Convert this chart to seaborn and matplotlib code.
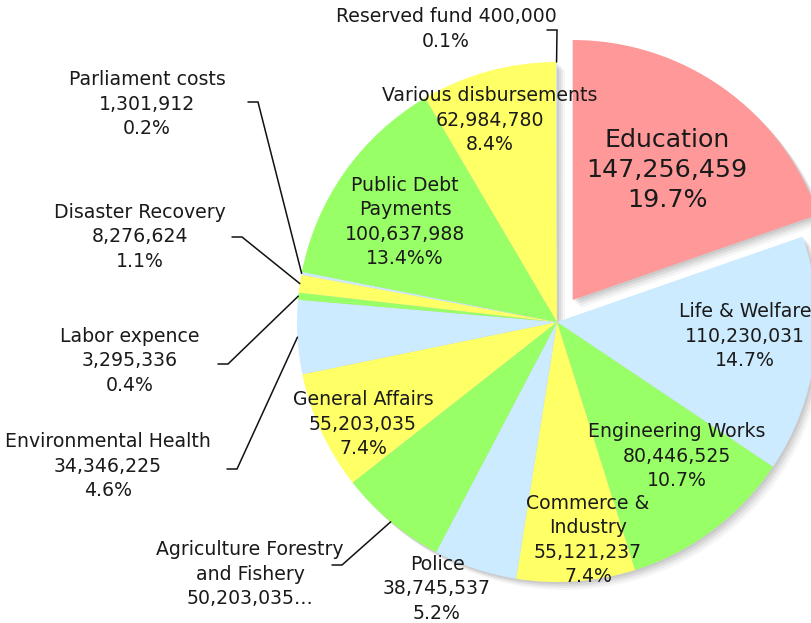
import matplotlib
matplotlib.use("Agg")
import matplotlib.pyplot as plt
import seaborn as sns
import numpy as np

sns.set_theme(style="white")
plt.rcParams['font.family'] = ['DejaVu Sans']

# ---- data ----
categories = ["Education", "Life & Welfare", "Engineering Works", "Commerce & Industry",
              "Police", "Agriculture Forestry and Fishery", "General Affairs",
              "Environmental Health", "Labor expence", "Disaster Recovery",
              "Parliament costs", "Public Debt Payments", "Various disbursements",
              "Reserved fund"]
values = [147256459, 110230031, 80446525, 55121237, 38745537, 50203035, 55203035,
          34346225, 3295336, 8276624, 1301912, 100637988, 62984780, 400000]
label_texts = ["Education\n147,256,459\n19.7%",
               "Life & Welfare\n110,230,031\n14.7%",
               "Engineering Works\n80,446,525\n10.7%",
               "Commerce &\nIndustry\n55,121,237\n7.4%",
               "Police\n38,745,537\n5.2%",
               "Agriculture Forestry\nand Fishery\n50,203,035\u2026",
               "General Affairs\n55,203,035\n7.4%",
               "Environmental Health\n34,346,225\n4.6%",
               "Labor expence\n3,295,336\n0.4%",
               "Disaster Recovery\n8,276,624\n1.1%",
               "Parliament costs\n1,301,912\n0.2%",
               "Public Debt\nPayments\n100,637,988\n13.4%%",
               "Various disbursements\n62,984,780\n8.4%",
               "Reserved fund 400,000\n0.1%"]

PINK, BLUE, GREEN, YELLOW = "#FF9999", "#CCEBFF", "#99FF66", "#FFFF66"
colors = [PINK, BLUE, GREEN, YELLOW, BLUE, GREEN, YELLOW, BLUE, GREEN, YELLOW,
          BLUE, GREEN, YELLOW, BLUE]

# ---- layout (pixel coordinates, y from top) ----
W, H = 811, 623
def P(x, y):
    return x, H - y

cx, cy = P(557, 322)
R = 260
explode = [27] + [0] * (len(values) - 1)

# label centres
label_pos = {
    "Education": (667, 170), "Life & Welfare": (745, 336), "Engineering Works": (677, 456),
    "Commerce & Industry": (588, 540), "Police": (437, 589),
    "Agriculture Forestry and Fishery": (250, 574), "General Affairs": (363, 424),
    "Environmental Health": (108, 466), "Labor expence": (130, 361),
    "Disaster Recovery": (140, 237), "Parliament costs": (147, 104),
    "Public Debt Payments": (405, 222), "Various disbursements": (490, 120),
    "Reserved fund": (446, 29),
}
# leader elbows for outside labels (start, elbow)
leaders = {
    "Reserved fund": ((547, 30), (557, 30)),
    "Parliament costs": ((248, 102), (258, 102)),
    "Disaster Recovery": ((232, 237), (242, 237)),
    "Labor expence": ((218, 364), (228, 364)),
    "Environmental Health": ((227, 469), (237, 469)),
    "Agriculture Forestry and Fishery": ((332, 565), (342, 565)),
}

fig = plt.figure(figsize=(W / 100, H / 100), dpi=100)
ax = fig.add_axes([0, 0, 1, 1])

# soft shadow
for k, a in [(8, 0.05), (6, 0.07), (4, 0.10), (2, 0.10)]:
    ax.pie(values, colors=["#505050"] * len(values), startangle=90, counterclock=False,
           explode=explode, radius=R, center=(cx + k, cy - k),
           wedgeprops=dict(linewidth=0, alpha=a), frame=True)

wedges, _ = ax.pie(values, colors=colors, startangle=90, counterclock=False,
                   explode=explode, radius=R, center=(cx, cy),
                   wedgeprops=dict(linewidth=0), frame=True)

ax.set_xlim(0, W)
ax.set_ylim(0, H)
ax.set_aspect('equal')
ax.axis('off')

txt_color = "#1a1a1a"
for cat, w, txt in zip(categories, wedges, label_texts):
    x, y = label_pos[cat]
    if cat == "Education":
        fs, ls = 18.2, 1.3
    else:
        fs, ls = 13.6, 1.35
    ax.text(*P(x, y), txt, ha='center', va='center', fontsize=fs, linespacing=ls,
            color=txt_color, zorder=5)
    if cat in leaders:
        th = np.deg2rad((w.theta1 + w.theta2) / 2)
        ex = w.center[0] + R * np.cos(th)
        ey = w.center[1] + R * np.sin(th)
        (sx, sy), (bx, by) = leaders[cat]
        xs = [sx, bx, ex]
        ys = [H - sy, H - by, ey]
        ax.plot(xs, ys, color="#111111", lw=1.1, zorder=4, solid_joinstyle='miter')

fig.savefig("out.png", dpi=100, facecolor="white")
